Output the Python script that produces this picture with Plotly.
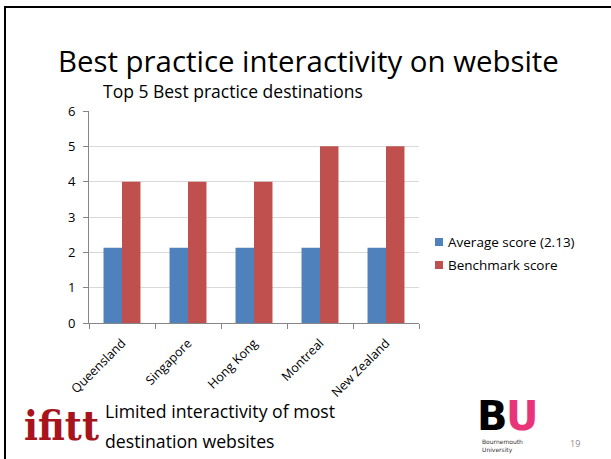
import plotly.graph_objects as go

categories = ["Queensland", "Singapore", "Hong Kong", "Montreal", "New Zealand"]
average_score = [2.13, 2.13, 2.13, 2.13, 2.13]
benchmark_score = [4, 4, 4, 5, 5]
series_names = ["Average score (2.13)", "Benchmark score"]
series_colors = ["#4F81BD", "#C0504D"]
y_ticks = [0, 1, 2, 3, 4, 5, 6]

W, H = 611, 459
L, R, T, B = 89, 192, 111, 136
PW, PH = W - L - R, H - T - B
FONT = "Open Sans"

fig = go.Figure()
for name, vals, col in zip(series_names, [average_score, benchmark_score], series_colors):
    fig.add_trace(go.Bar(x=categories, y=vals, name=name,
                         marker=dict(color=col, line=dict(width=0))))

def px(x):
    return (x - L) / PW

def py(y):
    return (H - B - y) / PH

fig.update_layout(
    width=W, height=H,
    margin=dict(l=L, r=R, t=T, b=B, autoexpand=False),
    paper_bgcolor="white", plot_bgcolor="white",
    barmode="group", bargap=0.44, bargroupgap=0,
    font=dict(family=FONT, color="#000000"),
    showlegend=False,
    xaxis=dict(tickangle=-45, tickfont=dict(size=12.5, family=FONT, color="#000000"),
               showline=True, linecolor="#868686", linewidth=1,
               ticks="outside", ticklen=5, tickcolor="#868686",
               tickson="boundaries", showgrid=False, fixedrange=True,
               ticklabelstandoff=7),
    yaxis=dict(range=[0, 6], tickvals=y_ticks, tickfont=dict(size=13, family=FONT, color="#000000"),
               showline=True, linecolor="#868686", linewidth=1,
               ticks="outside", ticklen=5, tickcolor="#868686",
               showgrid=True, gridcolor="#D9D9D9", gridwidth=1,
               zeroline=False, fixedrange=True, ticklabelstandoff=5),
)

annotations = [
    dict(text="Best practice interactivity on website", x=px(308.5), y=py(61),
         font=dict(size=29.4, family=FONT, color="#000000")),
    dict(text="Top 5 Best practice destinations", x=px(233), y=py(91.5),
         font=dict(size=17.5, family=FONT, color="#000000")),
    dict(text="Limited interactivity of most", x=px(103), y=py(411), xanchor="left",
         font=dict(size=17.7, family=FONT, color="#000000")),
    dict(text="destination websites", x=px(103), y=py(441), xanchor="left",
         font=dict(size=17.7, family=FONT, color="#000000")),
    dict(text="<b>ifitt</b>", x=px(61), y=py(426),
         font=dict(size=41, family="DejaVu Serif Condensed", color="#A8141C")),
    dict(text="<b>B</b>", x=px(493), y=py(416),
         font=dict(size=40, family="DejaVu Sans", color="#000000")),
    dict(text="<b>U</b>", x=px(522), y=py(416),
         font=dict(size=40, family="DejaVu Sans", color="#E8357A")),
    dict(text="Bournemouth<br>University", x=px(480), y=py(446), xanchor="left",
         align="left", font=dict(size=6, family="DejaVu Sans", color="#333333")),
    dict(text="19", x=px(575), y=py(443),
         font=dict(size=9, family=FONT, color="#8C8C8C")),
]
shapes = []
legend_y = [242, 265]
for name, col, ly in zip(series_names, series_colors, legend_y):
    annotations.append(dict(text=name, x=px(446), y=py(ly), xanchor="left",
                            font=dict(size=13.5, family=FONT, color="#000000")))
    shapes.append(dict(type="rect", xref="paper", yref="paper",
                       x0=px(435), x1=px(443), y0=py(ly - 4), y1=py(ly + 4),
                       fillcolor=col, line=dict(width=0)))
for a in annotations:
    a.setdefault("xanchor", "center")
    a.update(xref="paper", yref="paper", yanchor="middle", showarrow=False)

shapes += [
    dict(type="line", xref="paper", yref="paper", x0=px(4), x1=px(W), y0=py(7), y1=py(7),
         line=dict(color="#000000", width=2)),
    dict(type="line", xref="paper", yref="paper", x0=px(5), x1=px(5), y0=py(6), y1=py(H),
         line=dict(color="#000000", width=2)),
]
fig.update_layout(annotations=annotations, shapes=shapes)

fig.write_html("out.html")
